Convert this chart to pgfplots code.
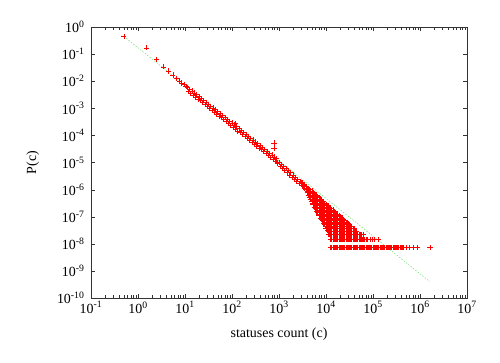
\documentclass[border=0pt]{standalone}
\usepackage{fontspec}
\setmainfont{Liberation Serif}
\usepackage{pgfplots}
\pgfplotsset{compat=1.18}
\definecolor{fitgreen}{RGB}{110,225,110}
\definecolor{ptred}{RGB}{255,0,0}
\pgfplotsset{redpts/.style={only marks, mark=+, color=ptred, mark size=2.6pt, line width=0.8pt, mark options={solid, draw=ptred}}}
\begin{document}
\begin{tikzpicture}[font=\fontsize{14}{17}\selectfont]
\begin{axis}[
  scale only axis, width=376bp, height=271bp,
  xmode=log, ymode=log,
  xmin=1e-1, xmax=1e7, ymin=1e-10, ymax=1,
  xtick={1e-1,1,1e1,1e2,1e3,1e4,1e5,1e6,1e7},
  xticklabels={10\textsuperscript{-1},10\textsuperscript{0},10\textsuperscript{1},10\textsuperscript{2},10\textsuperscript{3},10\textsuperscript{4},10\textsuperscript{5},10\textsuperscript{6},10\textsuperscript{7}},
  ytick={1e-10,1e-9,1e-8,1e-7,1e-6,1e-5,1e-4,1e-3,1e-2,1e-1,1},
  yticklabels={10\textsuperscript{-10},10\textsuperscript{-9},10\textsuperscript{-8},10\textsuperscript{-7},10\textsuperscript{-6},10\textsuperscript{-5},10\textsuperscript{-4},10\textsuperscript{-3},10\textsuperscript{-2},10\textsuperscript{-1},10\textsuperscript{0}},
  yminorticks=false, xminorticks=true,
  tick align=inside,
  axis line style={black!80},
  tick style={black!80},
  yticklabel style={xshift=-3bp},
  xlabel={statuses count (c)}, ylabel={P(c)},
  every axis x label/.style={at={(axis description cs:0.5,-0.133)}, anchor=center},
  every axis y label/.style={at={(axis description cs:-0.155,0.5)}, rotate=90, anchor=center},
]
\addplot[fitgreen, line width=0.5pt, dash pattern=on 1.5pt off 1.5pt] coordinates {(0.5,0.45)(1.6e6,4.08e-10)};
\addplot[redpts, line width=0.5pt] coordinates {
(0.5,0.439)(1.5,0.17)(2.5,0.064)(3.5,0.034)(4.5,0.0238)(5.5,0.0169)(6.5,0.0128)(7.5,0.0102)(8.5,0.0086)(9.5,0.0075)(10.5,0.0066)
(117,2.75e-4)(783,5.25e-5)(783,3.43e-5)
};
\addplot[redpts] coordinates {
(11.2,5.96e-3)(12.6,5.08e-3)(14.1,4.33e-3)(15.8,3.69e-3)(17.8,3.14e-3)(20.0,2.68e-3)(22.4,2.28e-3)(25.1,1.95e-3)(28.2,1.66e-3)(31.6,1.41e-3)
(35.5,1.20e-3)(39.8,1.03e-3)(44.7,8.74e-4)(50.1,7.45e-4)(56.2,6.35e-4)(63.1,5.41e-4)(70.8,4.61e-4)(79.4,3.93e-4)(89.1,3.35e-4)(100,2.85e-4)
(112,2.43e-4)(126,2.07e-4)(141,1.76e-4)(158,1.50e-4)(178,1.28e-4)(200,1.09e-4)(224,9.30e-5)(251,7.93e-5)(282,6.75e-5)(316,5.75e-5)
(355,4.90e-5)(398,4.18e-5)(447,3.56e-5)(501,3.03e-5)(562,2.59e-5)(631,2.20e-5)(708,1.88e-5)(794,1.60e-5)(891,1.36e-5)
(1000,1.035e-5)(1122,8.62e-6)(1259,7.18e-6)(1413,5.98e-6)(1585,4.98e-6)(1778,4.15e-6)(1995,3.45e-6)(2239,2.87e-6)(2512,2.39e-6)
(11.89,4.18e-3)(13.34,3.56e-3)(14.96,3.03e-3)(16.79,2.58e-3)(18.84,2.20e-3)(21.13,1.88e-3)(23.71,1.60e-3)(26.61,1.36e-3)(29.85,1.16e-3)(33.50,9.89e-4)
(37.58,8.43e-4)(42.17,7.18e-4)(47.32,6.12e-4)(53.09,5.21e-4)(59.57,4.45e-4)(66.83,3.78e-4)(74.99,3.23e-4)(84.14,2.75e-4)(94.41,2.34e-4)(105.9,2.00e-4)
(118.9,1.70e-4)(133.4,1.45e-4)(149.6,1.24e-4)(167.9,1.05e-4)(188.4,8.97e-5)(211.3,7.64e-5)(237.1,6.52e-5)(266.1,5.55e-5)(298.5,4.73e-5)(335.0,4.03e-5)
(375.8,3.44e-5)(421.7,2.92e-5)(473.2,2.49e-5)(530.9,2.12e-5)(595.7,1.81e-5)(668.3,1.54e-5)(749.9,1.32e-5)(841.4,1.12e-5)(944.1,9.55e-6)
(1059,7.16e-6)(1189,5.97e-6)(1334,4.97e-6)(1496,4.14e-6)(1679,3.44e-6)(1884,2.87e-6)(2113,2.39e-6)(2371,1.99e-6)(2661,1.66e-6)
};
\addplot[redpts] coordinates {
(2818,2.0e-6)
(3162,1.778e-6)(3162,1.413e-6)
(3548,1.413e-6)(3548,1.122e-6)
(3981,1.122e-6)(3981,8.91e-7)(3981,7.94e-7)
(4467,1.0e-6)(4467,7.94e-7)(4467,6.31e-7)(4467,5.01e-7)
(5012,8.91e-7)(5012,7.08e-7)(5012,5.62e-7)(5012,4.47e-7)(5012,3.55e-7)
(5623,7.08e-7)(5623,5.62e-7)(5623,4.47e-7)(5623,3.55e-7)(5623,2.82e-7)(5623,2.24e-7)
(6310,6.31e-7)(6310,5.01e-7)(6310,3.98e-7)(6310,3.16e-7)(6310,2.51e-7)(6310,2.0e-7)(6310,1.58e-7)
(7079,5.01e-7)(7079,3.98e-7)(7079,3.16e-7)(7079,2.51e-7)(7079,2.0e-7)(7079,1.58e-7)(7079,1.26e-7)(7079,1.12e-7)
(7943,3.98e-7)(7943,3.16e-7)(7943,2.51e-7)(7943,2.0e-7)(7943,1.58e-7)(7943,1.26e-7)(7943,1.0e-7)(7943,7.94e-8)
(8913,3.55e-7)(8913,2.82e-7)(8913,2.24e-7)(8913,1.78e-7)(8913,1.41e-7)(8913,1.12e-7)(8913,8.91e-8)(8913,7.08e-8)(8913,5.62e-8)
(10000,2.82e-7)(10000,2.24e-7)(10000,1.78e-7)(10000,1.41e-7)(10000,1.12e-7)(10000,8.91e-8)(10000,7.08e-8)(10000,5.62e-8)(10000,4.47e-8)(10000,3.55e-8)
(11220,2.51e-7)(11220,2.0e-7)(11220,1.58e-7)(11220,1.26e-7)(11220,1.0e-7)(11220,7.94e-8)(11220,6.31e-8)(11220,5.01e-8)(11220,3.98e-8)(11220,2.88e-8)(11220,2.16e-8)
(12590,2.0e-7)(12590,1.58e-7)(12590,1.26e-7)(12590,1.0e-7)(12590,7.94e-8)(12590,6.31e-8)(12590,5.01e-8)(12590,3.98e-8)(12590,2.88e-8)(12590,2.16e-8)(12590,1.44e-8)(12590,7.2e-9)
(14130,1.78e-7)(14130,1.41e-7)(14130,1.12e-7)(14130,8.91e-8)(14130,7.08e-8)(14130,5.62e-8)(14130,4.47e-8)(14130,3.6e-8)(14130,2.88e-8)(14130,2.16e-8)(14130,1.44e-8)(14130,7.2e-9)
(15850,1.41e-7)(15850,1.12e-7)(15850,8.91e-8)(15850,7.08e-8)(15850,5.62e-8)(15850,4.47e-8)(15850,3.6e-8)(15850,2.88e-8)(15850,2.16e-8)(15850,1.44e-8)(15850,7.2e-9)
(17780,1.26e-7)(17780,1.0e-7)(17780,7.94e-8)(17780,6.31e-8)(17780,5.01e-8)(17780,4.32e-8)(17780,3.6e-8)(17780,2.88e-8)(17780,2.16e-8)(17780,1.44e-8)(17780,7.2e-9)
(19950,1.0e-7)(19950,7.94e-8)(19950,6.31e-8)(19950,5.01e-8)(19950,4.32e-8)(19950,3.6e-8)(19950,2.88e-8)(19950,2.16e-8)(19950,1.44e-8)(19950,7.2e-9)
(22390,8.91e-8)(22390,7.08e-8)(22390,5.62e-8)(22390,4.32e-8)(22390,3.6e-8)(22390,2.88e-8)(22390,2.16e-8)(22390,1.44e-8)(22390,7.2e-9)
(25120,7.08e-8)(25120,5.62e-8)(25120,4.32e-8)(25120,3.6e-8)(25120,2.88e-8)(25120,2.16e-8)(25120,1.44e-8)(25120,7.2e-9)
(28180,6.31e-8)(28180,5.04e-8)(28180,4.32e-8)(28180,3.6e-8)(28180,2.88e-8)(28180,2.16e-8)(28180,1.44e-8)(28180,7.2e-9)
(31620,5.04e-8)(31620,4.32e-8)(31620,3.6e-8)(31620,2.88e-8)(31620,2.16e-8)(31620,1.44e-8)(31620,7.2e-9)
(35480,4.32e-8)(35480,3.6e-8)(35480,2.88e-8)(35480,2.16e-8)(35480,1.44e-8)(35480,7.2e-9)
(39810,3.6e-8)(39810,2.88e-8)(39810,2.16e-8)(39810,1.44e-8)(39810,7.2e-9)
(44670,2.88e-8)(44670,2.16e-8)(44670,1.44e-8)(44670,7.2e-9)
(50120,2.16e-8)(50120,1.44e-8)(50120,7.2e-9)
(56230,2.16e-8)(56230,1.44e-8)(56230,7.2e-9)
(61000,2.16e-8)(63100,1.44e-8)(63100,7.2e-9)
(70790,1.44e-8)(70790,7.2e-9)(76000,1.44e-8)(79430,7.2e-9)
(86000,1.44e-8)(89130,7.2e-9)(96000,1.44e-8)(100000,7.2e-9)
(107000,1.44e-8)(112200,7.2e-9)(130000,1.44e-8)
(125900,7.2e-9)(141300,7.2e-9)(158500,7.2e-9)(177800,7.2e-9)(199500,7.2e-9)(223900,7.2e-9)(251200,7.2e-9)(281800,7.2e-9)(316200,7.2e-9)(354800,7.2e-9)(398100,7.2e-9)(440000,7.2e-9)
};
\addplot[redpts, line width=0.5pt] coordinates {
(500000,7.2e-9)(590000,7.2e-9)(720000,7.2e-9)(870000,7.2e-9)(1630000,7.2e-9)
};
\addplot[redpts] coordinates {
(2985,1.778e-6)
(3350,1.585e-6)(3350,1.259e-6)
(3758,1.259e-6)(3758,1.0e-6)
(4217,1.0e-6)(4217,7.94e-7)(4217,6.31e-7)
(4732,8.91e-7)(4732,7.08e-7)(4732,5.62e-7)(4732,4.47e-7)
(5309,7.94e-7)(5309,6.31e-7)(5309,5.01e-7)(5309,3.98e-7)(5309,3.16e-7)(5309,2.82e-7)
(5957,6.31e-7)(5957,5.01e-7)(5957,3.98e-7)(5957,3.16e-7)(5957,2.51e-7)(5957,2.0e-7)
(6683,5.62e-7)(6683,4.47e-7)(6683,3.55e-7)(6683,2.82e-7)(6683,2.24e-7)(6683,1.78e-7)(6683,1.41e-7)
(7499,4.47e-7)(7499,3.55e-7)(7499,2.82e-7)(7499,2.24e-7)(7499,1.78e-7)(7499,1.41e-7)(7499,1.12e-7)(7499,8.91e-8)
(8414,3.55e-7)(8414,2.82e-7)(8414,2.24e-7)(8414,1.78e-7)(8414,1.41e-7)(8414,1.12e-7)(8414,8.91e-8)(8414,7.08e-8)
(9441,3.16e-7)(9441,2.51e-7)(9441,2.0e-7)(9441,1.58e-7)(9441,1.26e-7)(9441,1.0e-7)(9441,7.94e-8)(9441,6.31e-8)(9441,5.01e-8)
(10590,2.51e-7)(10590,2.0e-7)(10590,1.58e-7)(10590,1.26e-7)(10590,1.0e-7)(10590,7.94e-8)(10590,6.31e-8)(10590,5.01e-8)(10590,3.98e-8)(10590,3.16e-8)
(11890,2.24e-7)(11890,1.78e-7)(11890,1.41e-7)(11890,1.12e-7)(11890,8.91e-8)(11890,7.08e-8)(11890,5.62e-8)(11890,4.47e-8)(11890,3.55e-8)(11890,2.88e-8)(11890,2.16e-8)
(13340,1.78e-7)(13340,1.41e-7)(13340,1.12e-7)(13340,8.91e-8)(13340,7.08e-8)(13340,5.62e-8)(13340,4.47e-8)(13340,2.88e-8)(13340,2.16e-8)(13340,1.44e-8)(13340,7.2e-9)
(14960,1.58e-7)(14960,1.26e-7)(14960,1.0e-7)(14960,7.94e-8)(14960,6.31e-8)(14960,5.01e-8)(14960,3.6e-8)(14960,2.88e-8)(14960,2.16e-8)(14960,1.44e-8)(14960,7.2e-9)
(16790,1.26e-7)(16790,1.0e-7)(16790,7.94e-8)(16790,6.31e-8)(16790,5.01e-8)(16790,3.6e-8)(16790,2.88e-8)(16790,2.16e-8)(16790,1.44e-8)(16790,7.2e-9)
(18840,1.12e-7)(18840,8.91e-8)(18840,7.08e-8)(18840,5.62e-8)(18840,4.32e-8)(18840,3.6e-8)(18840,2.88e-8)(18840,2.16e-8)(18840,1.44e-8)(18840,7.2e-9)
(21130,8.91e-8)(21130,7.08e-8)(21130,5.62e-8)(21130,4.32e-8)(21130,3.6e-8)(21130,2.88e-8)(21130,2.16e-8)(21130,1.44e-8)(21130,7.2e-9)
(23710,7.94e-8)(23710,6.31e-8)(23710,5.04e-8)(23710,4.32e-8)(23710,3.6e-8)(23710,2.88e-8)(23710,2.16e-8)(23710,1.44e-8)(23710,7.2e-9)
(26610,6.31e-8)(26610,5.04e-8)(26610,4.32e-8)(26610,3.6e-8)(26610,2.88e-8)(26610,2.16e-8)(26610,1.44e-8)(26610,7.2e-9)
(29850,5.62e-8)(29850,4.32e-8)(29850,3.6e-8)(29850,2.88e-8)(29850,2.16e-8)(29850,1.44e-8)(29850,7.2e-9)
(33500,4.32e-8)(33500,3.6e-8)(33500,2.88e-8)(33500,2.16e-8)(33500,1.44e-8)(33500,7.2e-9)
(37580,3.6e-8)(37580,2.88e-8)(37580,2.16e-8)(37580,1.44e-8)(37580,7.2e-9)
(42170,2.88e-8)(42170,2.16e-8)(42170,1.44e-8)(42170,7.2e-9)
(47320,2.16e-8)(47320,1.44e-8)(47320,7.2e-9)(53090,2.16e-8)(53090,1.44e-8)(53090,7.2e-9)
(59570,1.44e-8)(59570,7.2e-9)(66830,1.44e-8)(66830,7.2e-9)(74990,7.2e-9)(84140,7.2e-9)(94410,7.2e-9)
(105900,7.2e-9)(118900,7.2e-9)(133400,7.2e-9)(149600,7.2e-9)(167900,7.2e-9)(188400,7.2e-9)(211300,7.2e-9)(237100,7.2e-9)(266100,7.2e-9)(298500,7.2e-9)(335000,7.2e-9)(375800,7.2e-9)(421700,7.2e-9)
};
\end{axis}
\pgfresetboundingbox
\path ([shift={(-91bp,-65bp)}]current axis.south west) rectangle ([shift={(33bp,27bp)}]current axis.north east);
\end{tikzpicture}
\end{document}
